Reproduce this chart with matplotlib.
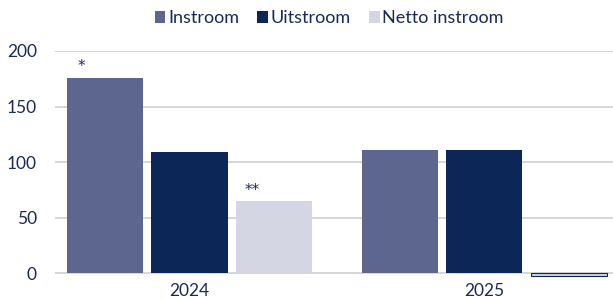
import matplotlib
import numpy as np
import matplotlib.pyplot as plt
from matplotlib.patches import Patch

matplotlib.use("Agg", force=True)

years = ["2024", "2025"]
series_names = ["Instroom", "Uitstroom", "Netto instroom"]
instroom = [176, 111]
uitstroom = [109, 111]
netto = [65, -2.5]
y_ticks = [0, 50, 100, 150, 200]

colors = ["#5c668f", "#0c2657", "#d4d6e4"]
text_color = "#1b2a55"

plt.rcParams["font.family"] = ["Lato", "DejaVu Sans"]

fig = plt.figure(figsize=(6.13, 2.99), dpi=100)
ax = fig.add_axes([0.0897, 0.0706, 0.9103, 0.759])

x = np.arange(len(years))
width = 0.258
step = 0.286
for i, (values, color) in enumerate(zip([instroom, uitstroom, netto], colors)):
    offs = (i - 1) * step
    for xi, v in zip(x, values):
        if abs(v) < 5:
            # near-zero bar gets an outline so it stays visible
            ax.bar(xi + offs, v, width, color=color, edgecolor="#0c2657", linewidth=0.8, zorder=3)
        else:
            ax.bar(xi + offs, v, width, color=color, zorder=3)

# footnote markers
ax.text(x[0] - step - width / 2 + 0.05, instroom[0] + 3, "*", ha="center", va="bottom",
        color=text_color, fontsize=11, family="DejaVu Sans")
ax.text(x[0] + step - width / 2 + 0.055, netto[0] + 3, "**", ha="center", va="bottom",
        color=text_color, fontsize=11, family="DejaVu Sans")

ax.set_xlim(-0.456, 1.436)
ax.set_ylim(-4, 200)
ax.set_yticks(y_ticks)
ax.set_xticks(x)
ax.set_xticklabels(years)
ax.tick_params(length=0, labelsize=12.5, colors=text_color, pad=4)
ax.tick_params(axis="y", pad=13)
ax.grid(axis="y", color="#d0d0d0", linewidth=1.2, zorder=0)
for s in ax.spines.values():
    s.set_visible(False)
ax.set_axisbelow(True)

handles = [Patch(facecolor=c) for c in colors]
fig.legend(handles, series_names, loc="upper center", bbox_to_anchor=(0.537, 1.02), ncol=3,
           frameon=False, fontsize=13, labelcolor=text_color, handlelength=0.6,
           handleheight=0.6, handletextpad=0.15, columnspacing=1.0)

fig.savefig("out.png", dpi=100)
